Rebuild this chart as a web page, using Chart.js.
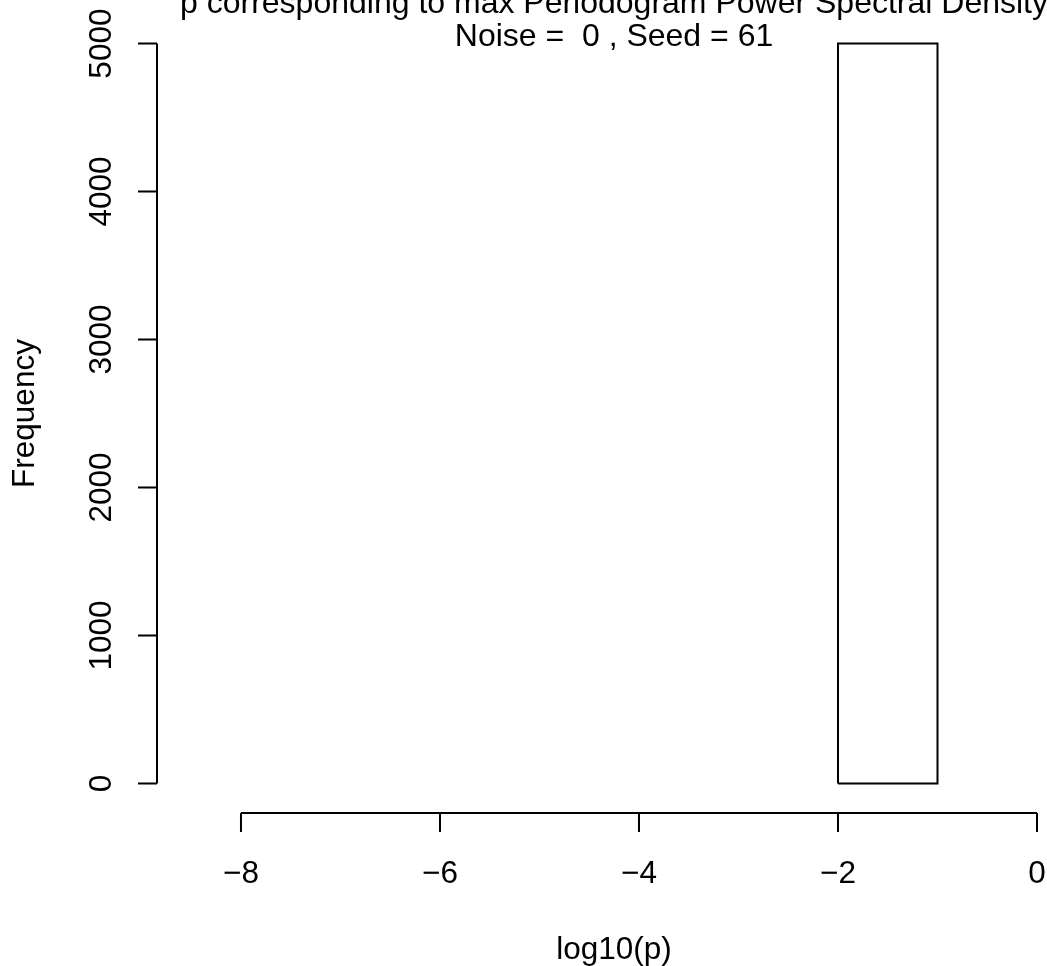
<!DOCTYPE html>
<html>
<head>
<meta charset="utf-8">
<script src="https://cdn.jsdelivr.net/npm/chart.js@4/dist/chart.umd.min.js"></script>
<style>
  html, body { margin: 0; padding: 0; background: #fff; }
  canvas { display: block; }
</style>
</head>
<body>
<canvas id="c" width="1047" height="966"></canvas>
<script>
// ---- data ----
const breaks = [-2, -1];          // histogram bin edges (log10(p))
const counts = [5000];            // counts per bin
const xTicks = [-8, -6, -4, -2, 0];
const yTicks = [0, 1000, 2000, 3000, 4000, 5000];
const titleLines = ["p corresponding to max Periodogram Power Spectral Density", "Noise =  0 , Seed = 61"];
const xLabel = "log10(p)";
const yLabel = "Frequency";

// outline of histogram bars built from bins
const outline = [];
counts.forEach((c, i) => {
  outline.push({x: breaks[i], y: 0}, {x: breaks[i], y: c}, {x: breaks[i + 1], y: c},
               {x: breaks[i + 1], y: 0}, {x: breaks[i], y: 0});
  if (i < counts.length - 1) outline.push({x: null, y: null});
});

const FONT = '"Liberation Sans", Arial, Helvetica, sans-serif';
const fmt = v => (v < 0 ? "\u2212" + Math.abs(v) : String(v));

const rAxes = {
  id: 'rAxes',
  afterDraw(chart) {
    const ctx = chart.ctx, xs = chart.scales.x, ys = chart.scales.y, ca = chart.chartArea;
    ctx.save();
    ctx.strokeStyle = '#000';
    ctx.fillStyle = '#000';
    ctx.lineWidth = 2;
    ctx.lineCap = 'butt';
    // y axis
    const yx = ca.left;
    ctx.beginPath();
    ctx.moveTo(yx, ys.getPixelForValue(yTicks[0]));
    ctx.lineTo(yx, ys.getPixelForValue(yTicks[yTicks.length - 1]));
    yTicks.forEach(v => { const p = ys.getPixelForValue(v); ctx.moveTo(yx, p); ctx.lineTo(yx - 19, p); });
    // x axis
    const xy = ca.bottom;
    ctx.moveTo(xs.getPixelForValue(xTicks[0]), xy);
    ctx.lineTo(xs.getPixelForValue(xTicks[xTicks.length - 1]), xy);
    xTicks.forEach(v => { const p = xs.getPixelForValue(v); ctx.moveTo(p, xy); ctx.lineTo(p, xy + 19); });
    ctx.stroke();

    ctx.font = '31.5px ' + FONT;
    ctx.textBaseline = 'alphabetic';
    ctx.textAlign = 'center';
    // x tick labels
    xTicks.forEach(v => ctx.fillText(fmt(v), xs.getPixelForValue(v), 883));
    // y tick labels (rotated)
    yTicks.forEach(v => {
      ctx.save();
      ctx.translate(111, ys.getPixelForValue(v));
      ctx.rotate(-Math.PI / 2);
      ctx.fillText(fmt(v), 0, 0);
      ctx.restore();
    });
    const cx = (ca.left + 1071) / 2;
    const cy = (ca.top + ca.bottom) / 2;
    // axis titles
    ctx.fillText(xLabel, cx, 959);
    ctx.save();
    ctx.translate(34, cy);
    ctx.rotate(-Math.PI / 2);
    ctx.fillText(yLabel, 0, 0);
    ctx.restore();
    // main title
    ctx.font = '32px ' + FONT;
    ctx.fillText(titleLines[0], cx, 13);
    ctx.fillText(titleLines[1], cx, 46);
    ctx.restore();
  }
};

new Chart(document.getElementById('c'), {
  type: 'scatter',
  data: {
    datasets: [{
      data: outline,
      showLine: true,
      borderColor: '#000',
      borderWidth: 2,
      pointRadius: 0,
      fill: false,
      tension: 0,
      spanGaps: false,
      borderJoinStyle: 'miter'
    }]
  },
  options: {
    responsive: false,
    animation: false,
    layout: { padding: { left: 157, top: 14, right: 0, bottom: 153 } },
    plugins: { legend: { display: false }, tooltip: { enabled: false }, title: { display: false } },
    scales: {
      x: { type: 'linear', min: -8.844, max: 0.1005, display: false },
      y: { type: 'linear', min: -200, max: 5200, display: false }
    }
  },
  plugins: [rAxes]
});
</script>
</body>
</html>
